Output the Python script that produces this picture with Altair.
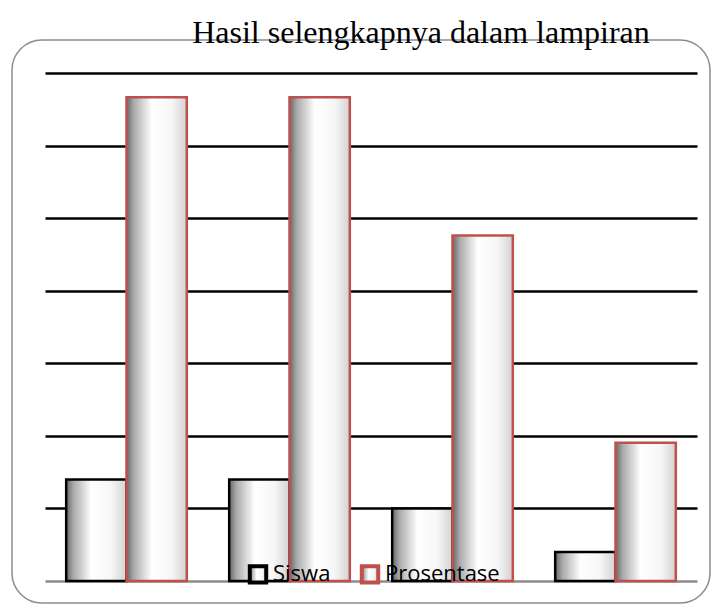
import altair as alt
import pandas as pd

categories = ["1", "2", "3", "4"]
series = ["Siswa", "Prosentase"]
siswa = [7, 7, 5, 2]
prosentase = [33.33, 33.33, 23.81, 9.52]

rows = []
for c, s, p in zip(categories, siswa, prosentase):
    rows.append({"kategori": c, "seri": "Siswa", "nilai": s})
    rows.append({"kategori": c, "seri": "Prosentase", "nilai": p})
df = pd.DataFrame(rows)

grad = alt.Gradient(
    gradient="linear",
    x1=0, x2=1, y1=0, y2=0,
    stops=[
        alt.GradientStop(color="#666666", offset=0),
        alt.GradientStop(color="#aaaaaa", offset=0.12),
        alt.GradientStop(color="#ffffff", offset=0.42),
        alt.GradientStop(color="#f6f6f6", offset=0.75),
        alt.GradientStop(color="#d2d2d2", offset=1),
    ],
)

W, H = 652, 508

frame = alt.Chart(pd.DataFrame({"a": [0]})).mark_rect(
    fill=None, stroke="#8c8c8c", strokeWidth=1.5, cornerRadius=30
).encode(
    x=alt.value(-33), x2=alt.value(665), y=alt.value(-33), y2=alt.value(530)
)

bars = alt.Chart(df).mark_bar(fill=grad, strokeWidth=2.5, strokeJoin="miter").encode(
    x=alt.X("kategori:N", sort=categories,
            scale=alt.Scale(paddingInner=0.26, paddingOuter=0.13),
            axis=alt.Axis(title=None, labels=False, ticks=False, domain=True,
                          domainColor="#8c8c8c", domainWidth=2.5, grid=False)),
    xOffset=alt.XOffset("seri:N", sort=series, scale=alt.Scale(domain=series, paddingInner=0, paddingOuter=0)),
    y=alt.Y("nilai:Q", scale=alt.Scale(domain=[0, 35], nice=False),
            axis=alt.Axis(title=None, labels=False, ticks=False, domain=False,
                          values=[5, 10, 15, 20, 25, 30, 35], grid=True,
                          gridColor="black", gridWidth=2.5, gridOpacity=1)),
    stroke=alt.Stroke("seri:N", sort=series,
                      scale=alt.Scale(domain=series, range=["black", "#C0504D"]),
                      legend=alt.Legend(title=None, orient="none", direction="horizontal",
                                        legendX=202, legendY=490,
                                        symbolType="square", symbolSize=270,
                                        symbolStrokeWidth=4, symbolFillColor="white",
                                        labelFont="Open Sans", labelFontSize=22,
                                        labelColor="black", labelOffset=4,
                                        columnPadding=22)),
)

chart = alt.layer(frame, bars).properties(
    width=W, height=H,
    autosize=alt.AutoSizeParams(type="none"),
    padding={"left": 37, "top": 65, "right": 15, "bottom": 23},
    title=alt.TitleParams("Hasil selengkapnya dalam lampiran", font="Liberation Serif",
                          fontSize=32, fontWeight="normal", color="black",
                          anchor="middle", dx=50, dy=36, offset=25, frame="group"),
).configure_view(stroke=None).configure_axis(gridCap="butt")

chart.save("out.html", embed_options={"renderer": "svg", "actions": False})
